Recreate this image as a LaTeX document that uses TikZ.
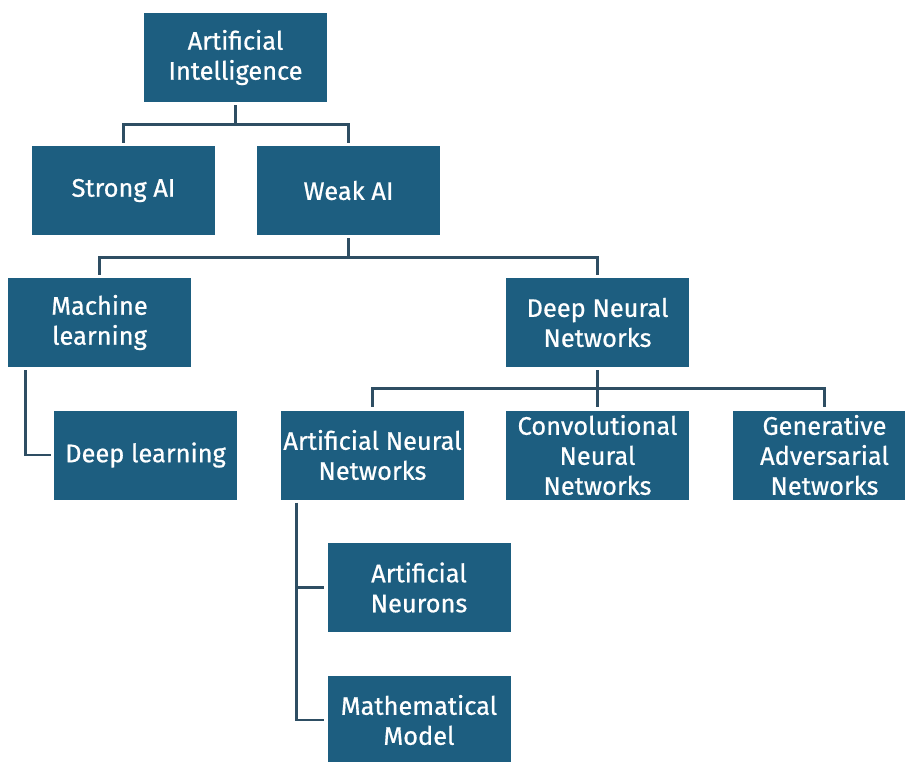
\documentclass[tikz,border=0pt]{standalone}
\usepackage{fontspec}
\setmainfont{Fira Sans}
\newfontfamily\boxfont{Fira Sans}[FakeBold=0.7]
\usepackage{xcolor}

\definecolor{boxblue}{HTML}{1D5E80}
\definecolor{linegray}{HTML}{2E4E63}

\tikzset{
	box/.style={fill=boxblue, text=white, align=center, minimum width=91.5pt,
		minimum height=44.5pt, inner sep=1pt, font=\boxfont\fontsize{12.7}{15}\selectfont},
	link/.style={draw=linegray, line width=1.2pt, shorten <=1.5pt, shorten >=1.5pt}
}

\begin{document}
\begin{tikzpicture}[x=0.5pt,y=-0.5pt]
	
	\useasboundingbox (0,0) rectangle (905,761);
	
	% boxes
	\node[box] (ai)      at (235.5,57.5) {Artificial\\Intelligence};
	\node[box] (strong)  at (123.5,190.5) {Strong AI};
	\node[box] (weak)    at (348.5,190.5) {Weak AI};
	\node[box] (ml)      at (99.5,322.5)  {Machine\\learning};
	\node[box] (dnn)     at (597.5,322.5) {Deep Neural\\Networks};
	\node[box] (dl)      at (145.5,455)   {Deep learning};
	\node[box] (ann)     at (372.5,455)   {Artificial Neural\\Networks};
	\node[box] (cnn)     at (597.5,455)   {Convolutional\\Neural\\Networks};
	\node[box] (gan)     at (824.5,455)   {Generative\\Adversarial\\Networks};
	\node[box] (neurons) at (419,587.5)   {Artificial\\Neurons};
	\node[box] (model)   at (419,720)     {Mathematical\\Model};
	
	% connectors
	\draw[link] (ai.south) -- ++(0,22) -| (strong.north);
	\draw[link] (ai.south) -- ++(0,22) -| (weak.north);
	\draw[link] (weak.south) -- ++(0,22) -| (ml.north);
	\draw[link] (weak.south) -- ++(0,22) -| (dnn.north);
	\draw[link] ([xshift=9pt]ml.south west) |- (dl.west);
	\foreach \n in {ann,cnn,gan}
	{
		\draw[link] (dnn.south) -- ++(0,21) -| (\n.north);
	}
	\draw[link] ([xshift=8pt]ann.south west) |- (neurons.west);
	\draw[link] ([xshift=8pt]ann.south west) |- (model.west);
\end{tikzpicture}
\end{document}
